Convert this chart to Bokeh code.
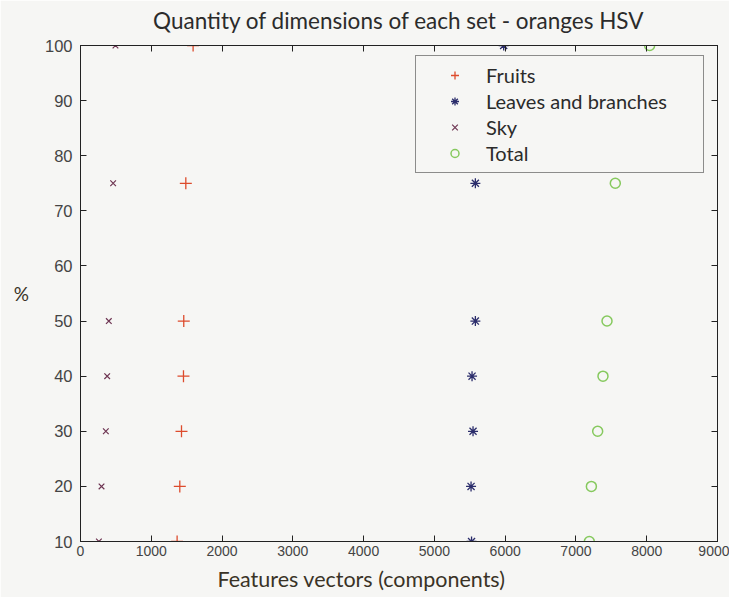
from bokeh.plotting import figure
from bokeh.models import (LinearAxis, Range1d, Title, Legend, LegendItem, FixedTicker,
                          CustomLabelingPolicy)
from bokeh.embed import file_html
from bokeh.resources import INLINE

# ---- data ----
percent = [10, 20, 30, 40, 50, 75, 100]
fruits = [1365, 1403, 1427, 1455, 1459, 1488, 1591]
leaves = [5525, 5518, 5546, 5532, 5579, 5579, 5979]
sky = [260, 297, 358, 377, 400, 461, 494]
total = [7189, 7218, 7307, 7382, 7439, 7556, 8041]

x_ticks = [0, 1000, 2000, 3000, 4000, 5000, 6000, 7000, 8000, 9000]
y_ticks = [10, 20, 30, 40, 50, 60, 70, 80, 90, 100]

title_text = "Quantity of dimensions of each set - oranges HSV"
x_label = "Features vectors (components)"
y_label = "%"

BG = "#f6f6f4"
TICK_FONT = "Liberation Sans"
TEXT_FONT = "Lato"

p = figure(frame_width=637, frame_height=496, output_backend="svg", toolbar_location=None,
           x_range=Range1d(0, 9000), y_range=Range1d(10, 100),
           min_border_left=80, min_border_right=12, min_border_top=45, min_border_bottom=49,
           background_fill_color=BG, border_fill_color=BG)

p.title.text = title_text
p.title.text_font = TEXT_FONT
p.title.text_font_size = "22.5px"
p.title.text_font_style = "normal"
p.title.text_color = "#2b2b2b"
p.title.align = "center"
p.title.vertical_align = "top"
p.title.standoff = 11

p.grid.visible = False
p.outline_line_color = "#222222"

for ax in (p.xaxis[0], p.yaxis[0]):
    ax.major_tick_in = 6
    ax.major_tick_out = 0
    ax.minor_tick_line_color = None
    ax.axis_line_color = "#222222"
    ax.major_tick_line_color = "#222222"
    ax.major_label_text_font = TICK_FONT
    ax.major_label_text_color = "#444444"

p.xaxis[0].major_label_text_font_size = "14px"
p.yaxis[0].major_label_text_font_size = "16.5px"
p.xaxis[0].ticker = FixedTicker(ticks=x_ticks)
p.yaxis[0].ticker = FixedTicker(ticks=y_ticks)
p.xaxis[0].major_label_standoff = 4
p.yaxis[0].major_label_standoff = 8

p.yaxis[0].axis_label = y_label
p.yaxis[0].axis_label_orientation = "horizontal"
p.yaxis[0].axis_label_text_font = TEXT_FONT
p.yaxis[0].axis_label_text_font_size = "19px"
p.yaxis[0].axis_label_text_font_style = "normal"
p.yaxis[0].axis_label_text_color = "#3a3326"
p.yaxis[0].axis_label_standoff = 13

# mirrored axes (ticks only, no labels drawn)
hide_all = "const ids = [...indices]; for (const i of ids) indices.unset(i); return indices"
top = LinearAxis(ticker=FixedTicker(ticks=x_ticks))
right = LinearAxis(ticker=FixedTicker(ticks=y_ticks))
for ax in (top, right):
    ax.major_tick_in = 6
    ax.major_tick_out = 0
    ax.minor_tick_line_color = None
    ax.axis_line_color = "#222222"
    ax.major_tick_line_color = "#222222"
    ax.major_label_text_font_size = "1px"
    ax.major_label_standoff = 0
    ax.major_label_policy = CustomLabelingPolicy(code=hide_all)
p.add_layout(top, "above")
p.add_layout(right, "right")

p.add_layout(Title(text=x_label, align="left", offset=137, text_font=TEXT_FONT,
                   text_font_size="21.5px", text_font_style="normal", text_color="#3a3326",
                   standoff=11), "below")

r_f = p.scatter(fruits, percent, marker="cross", size=12, line_color="#dd4b2c", line_width=1.3)
r_l = p.scatter(leaves, percent, marker="asterisk", size=10, line_color="#2b2d6b", line_width=1.3)
r_s = p.scatter(sky, percent, marker="x", size=8, line_color="#6e3552", line_width=1.2)
r_t = p.scatter(total, percent, marker="circle", size=10, fill_color=None,
                line_color="#86c95e", line_width=1.5)

legend = Legend(items=[LegendItem(label="Fruits", renderers=[r_f]),
                       LegendItem(label="Leaves and branches", renderers=[r_l]),
                       LegendItem(label="Sky", renderers=[r_s]),
                       LegendItem(label="Total", renderers=[r_t])],
                location=(335, 368), margin=0, padding=7, spacing=2,
                glyph_width=63, glyph_height=20, label_height=20, label_width=210,
                label_standoff=0, label_text_font=TEXT_FONT, label_text_font_size="20px",
                label_text_color="#2b2b2b", border_line_color="#222222", border_line_width=1,
                background_fill_color=BG, background_fill_alpha=1.0)
p.add_layout(legend, "center")

open("out.html", "w").write(file_html(p, INLINE))
